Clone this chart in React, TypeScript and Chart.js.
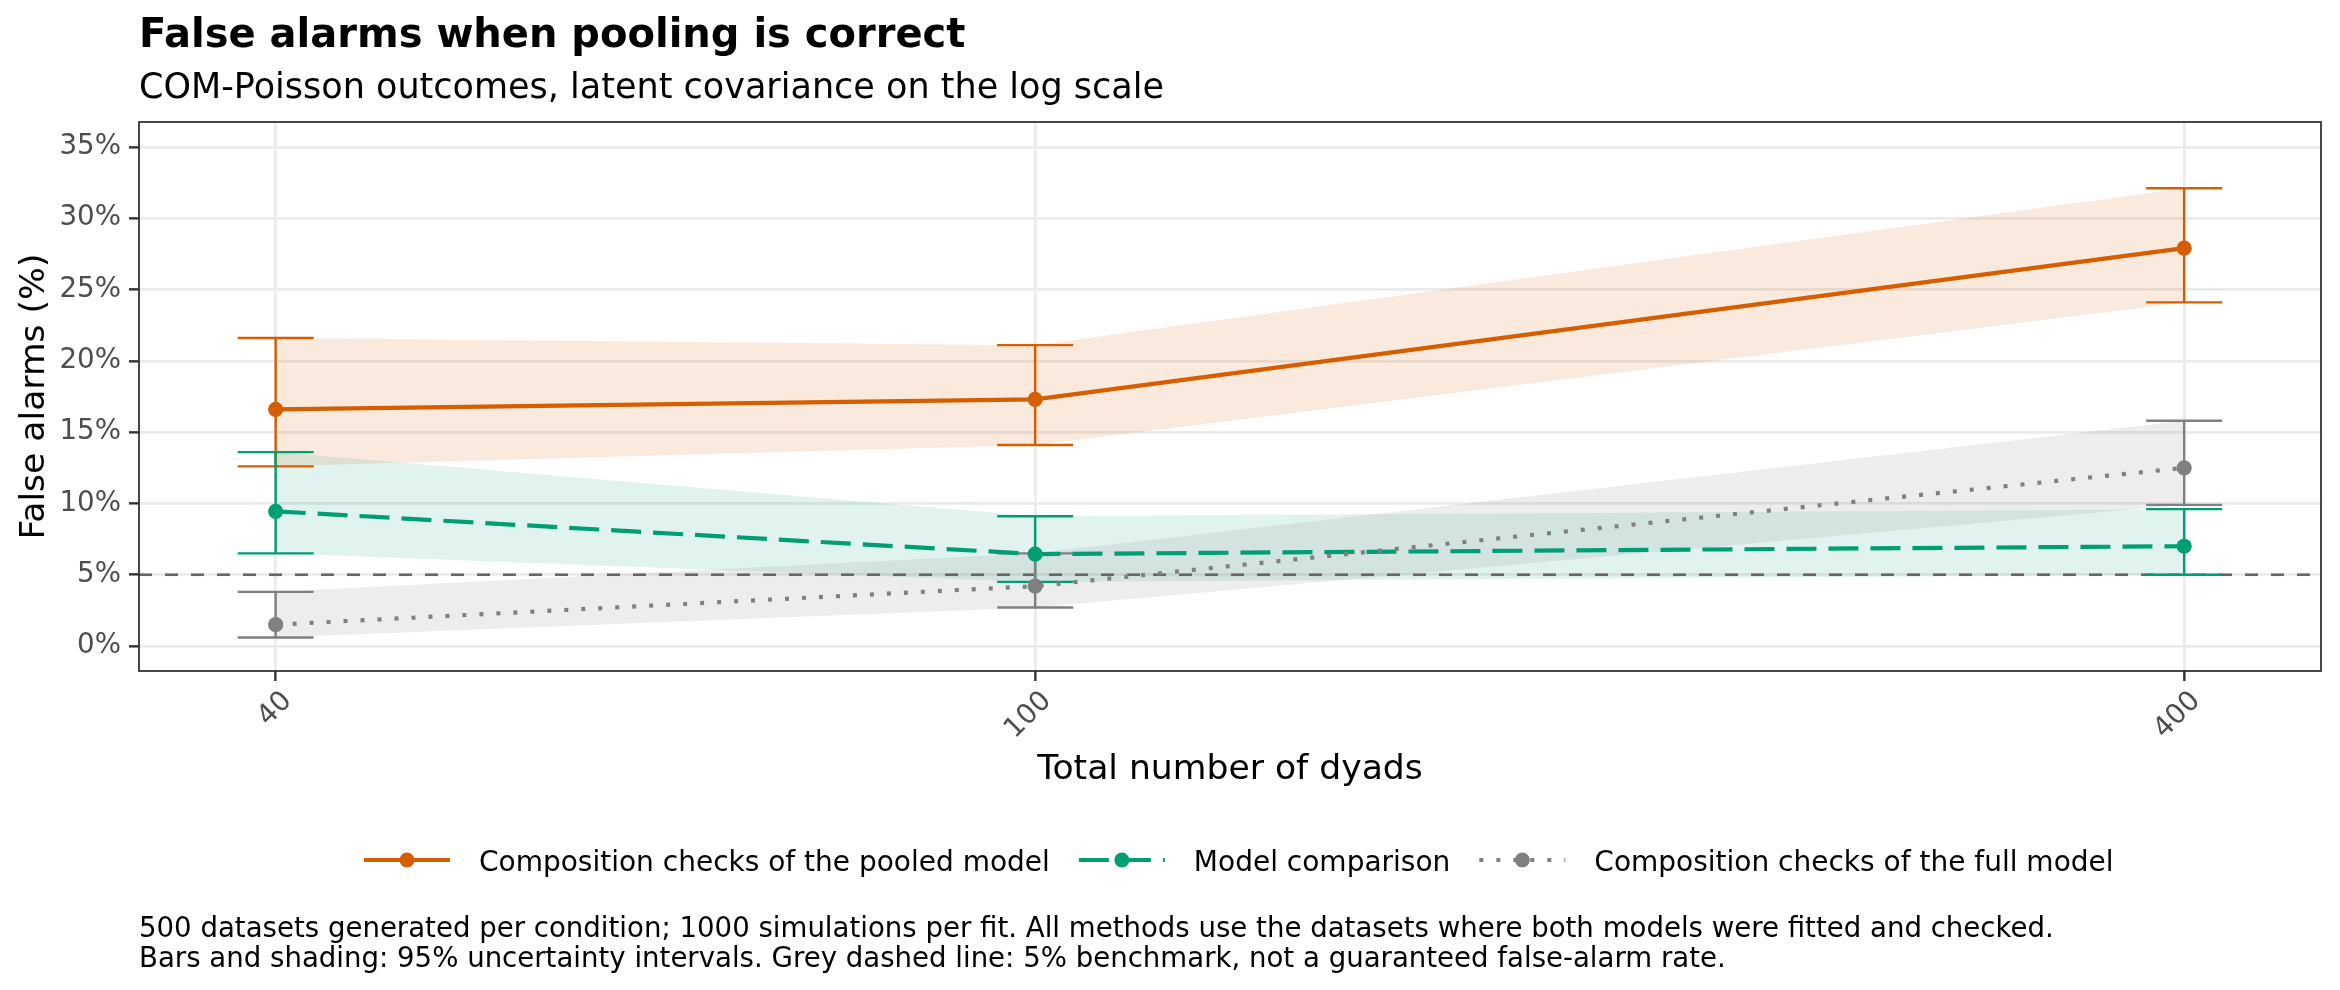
import { useEffect, useRef } from "react";
import { Chart, registerables } from "chart.js";

Chart.register(...registerables);

const dyads = [40, 100, 400];

const pooledEst = [16.6, 17.3, 27.9];
const pooledLow = [12.6, 14.1, 24.1];
const pooledHigh = [21.6, 21.1, 32.1];

const comparisonEst = [9.45, 6.45, 7.0];
const comparisonLow = [6.5, 4.5, 5.0];
const comparisonHigh = [13.6, 9.1, 9.6];

const fullEst = [1.5, 4.2, 12.5];
const fullLow = [0.6, 2.7, 9.9];
const fullHigh = [3.8, 6.5, 15.8];

const yTicks = [0, 5, 10, 15, 20, 25, 30, 35];
const benchmark = 5;

const title = "False alarms when pooling is correct";
const subtitle = "COM-Poisson outcomes, latent covariance on the log scale";
const xTitle = "Total number of dyads";
const yTitle = "False alarms (%)";
const captionLines = [
  "500 datasets generated per condition; 1000 simulations per fit. All methods use the datasets where both models were fitted and checked.",
  "Bars and shading: 95% uncertainty intervals. Grey dashed line: 5% benchmark, not a guaranteed false-alarm rate.",
];

const FONT = '"DejaVu Sans", sans-serif';

const series = [
  {
    label: "Composition checks of the pooled model",
    est: pooledEst, low: pooledLow, high: pooledHigh,
    color: "#D55E00", ribbon: "rgba(213,94,0,0.13)", dash: [] as number[],
  },
  {
    label: "Model comparison",
    est: comparisonEst, low: comparisonLow, high: comparisonHigh,
    color: "#009E73", ribbon: "rgba(0,158,115,0.12)", dash: [30, 12],
  },
  {
    label: "Composition checks of the full model",
    est: fullEst, low: fullLow, high: fullHigh,
    color: "#808080", ribbon: "rgba(128,128,128,0.14)", dash: [4, 13],
  },
];

const pts = (vals: number[]) => dyads.map((x, i) => ({ x, y: vals[i] }));

// error bars, reference line, border, titles and legend
const decorPlugin = {
  id: "decor",
  beforeDatasetsDraw(chart: any) {
    const { ctx, chartArea, scales } = chart;
    const x = scales.x;
    const y = scales.y;
    ctx.save();
    const yb = y.getPixelForValue(benchmark);
    ctx.strokeStyle = "#666666";
    ctx.lineWidth = 2.6;
    ctx.setLineDash([13, 13]);
    ctx.beginPath();
    ctx.moveTo(chartArea.left, yb);
    ctx.lineTo(chartArea.right, yb);
    ctx.stroke();
    ctx.setLineDash([]);

    const cap = 38;
    series.forEach((s) => {
      ctx.strokeStyle = s.color;
      ctx.lineWidth = 2.4;
      dyads.forEach((d, i) => {
        const px = x.getPixelForValue(d);
        const top = y.getPixelForValue(s.high[i]);
        const bot = y.getPixelForValue(s.low[i]);
        ctx.beginPath();
        ctx.moveTo(px, top);
        ctx.lineTo(px, bot);
        ctx.moveTo(px - cap, top);
        ctx.lineTo(px + cap, top);
        ctx.moveTo(px - cap, bot);
        ctx.lineTo(px + cap, bot);
        ctx.stroke();
      });
    });
    ctx.restore();
  },
  afterDatasetsDraw(chart: any) {
    const { ctx, chartArea } = chart;
    ctx.save();
    ctx.strokeStyle = "#333333";
    ctx.lineWidth = 1.8;
    ctx.strokeRect(chartArea.left, chartArea.top, chartArea.right - chartArea.left, chartArea.bottom - chartArea.top);
    ctx.restore();
  },
  afterDraw(chart: any) {
    const { ctx, chartArea } = chart;
    ctx.save();
    ctx.fillStyle = "#000000";
    ctx.textBaseline = "alphabetic";
    ctx.textAlign = "left";
    ctx.font = `bold 40px ${FONT}`;
    ctx.fillText(title, 139, 47);
    ctx.font = `35px ${FONT}`;
    ctx.fillText(subtitle, 139, 98);

    ctx.font = `34.6px ${FONT}`;
    ctx.textAlign = "center";
    ctx.fillText(xTitle, (chartArea.left + chartArea.right) / 2, 779);
    ctx.save();
    ctx.translate(43.5, (chartArea.top + chartArea.bottom) / 2);
    ctx.rotate(-Math.PI / 2);
    ctx.fillText(yTitle, 0, 0);
    ctx.restore();

    // legend
    ctx.font = `28px ${FONT}`;
    ctx.textAlign = "left";
    const ly = 860;
    let cx = 407;
    series.forEach((s) => {
      ctx.strokeStyle = s.color;
      ctx.lineWidth = 4;
      ctx.setLineDash(s.dash);
      ctx.beginPath();
      ctx.moveTo(cx - 43, ly);
      ctx.lineTo(cx + 43, ly);
      ctx.stroke();
      ctx.setLineDash([]);
      ctx.fillStyle = s.color;
      ctx.beginPath();
      ctx.arc(cx, ly, 7.5, 0, Math.PI * 2);
      ctx.fill();
      ctx.fillStyle = "#000000";
      ctx.fillText(s.label, cx + 72, 871);
      cx += 72 + ctx.measureText(s.label).width + 72;
    });

    ctx.font = `27.6px ${FONT}`;
    captionLines.forEach((line, i) => ctx.fillText(line, 139, 937 + i * 30));
    ctx.restore();
  },
};

export default function App() {
  const canvasRef = useRef<HTMLCanvasElement>(null);

  useEffect(() => {
    if (!canvasRef.current) return;
    Chart.defaults.font.family = FONT;

    const datasets: any[] = [];
    [...series].reverse().forEach((s) => {
      datasets.push({
        data: pts(s.low),
        borderColor: "rgba(0,0,0,0)",
        borderWidth: 0,
        pointRadius: 0,
        fill: false,
      });
      datasets.push({
        data: pts(s.high),
        borderColor: "rgba(0,0,0,0)",
        borderWidth: 0,
        pointRadius: 0,
        fill: "-1",
        backgroundColor: s.ribbon,
      });
      datasets.push({
        label: s.label,
        data: pts(s.est),
        borderColor: s.color,
        borderWidth: 4.2,
        borderDash: s.dash,
        borderCapStyle: "butt",
        pointRadius: 7.6,
        pointHoverRadius: 7.6,
        pointBackgroundColor: s.color,
        pointBorderWidth: 0,
        fill: false,
        tension: 0,
      });
    });

    const chart = new Chart(canvasRef.current, {
      type: "line",
      data: { datasets },
      options: {
        animation: false,
        responsive: false,
        devicePixelRatio: 1,
        events: [],
        layout: { padding: { top: 122, right: 19, bottom: 0, left: 0 } },
        plugins: {
          legend: { display: false },
          tooltip: { enabled: false },
          title: { display: false },
          filler: { drawTime: "beforeDatasetsDraw" },
        },
        scales: {
          x: {
            type: "logarithmic",
            min: 33.92,
            max: 471.8,
            afterBuildTicks: (scale: any) => {
              scale.ticks = dyads.map((v) => ({ value: v }));
            },
            afterFit: (scale: any) => {
              scale.height = 319;
            },
            ticks: {
              callback: (v: any) => String(v),
              autoSkip: false,
              minRotation: 45,
              maxRotation: 45,
              padding: 4,
              labelOffset: 12,
              color: "#4D4D4D",
              font: { size: 27.7, family: FONT },
            },
            grid: {
              color: "#EBEBEB",
              lineWidth: 2.7,
              tickColor: "#333333",
              tickLength: 10,
              tickWidth: 2.4,
            },
            border: { display: false },
          },
          y: {
            type: "linear",
            min: -1.75,
            max: 36.75,
            afterBuildTicks: (scale: any) => {
              scale.ticks = yTicks.map((v) => ({ value: v }));
            },
            afterFit: (scale: any) => {
              scale.width = 139;
            },
            ticks: {
              callback: (v: any) => `${v}%`,
              padding: 8,
              color: "#4D4D4D",
              font: { size: 27.7, family: FONT },
            },
            grid: {
              color: "#EBEBEB",
              lineWidth: 2.7,
              tickColor: "#333333",
              tickLength: 10,
              tickWidth: 2.4,
            },
            border: { display: false },
          },
        },
      } as any,
      plugins: [decorPlugin],
    });

    return () => {
      chart.destroy();
    };
  }, []);

  return (
    <div style={{ position: "absolute", left: 0, top: 0, width: 2340, height: 990, background: "#ffffff" }}>
      <canvas ref={canvasRef} width={2340} height={990} style={{ display: "block" }} />
    </div>
  );
}
